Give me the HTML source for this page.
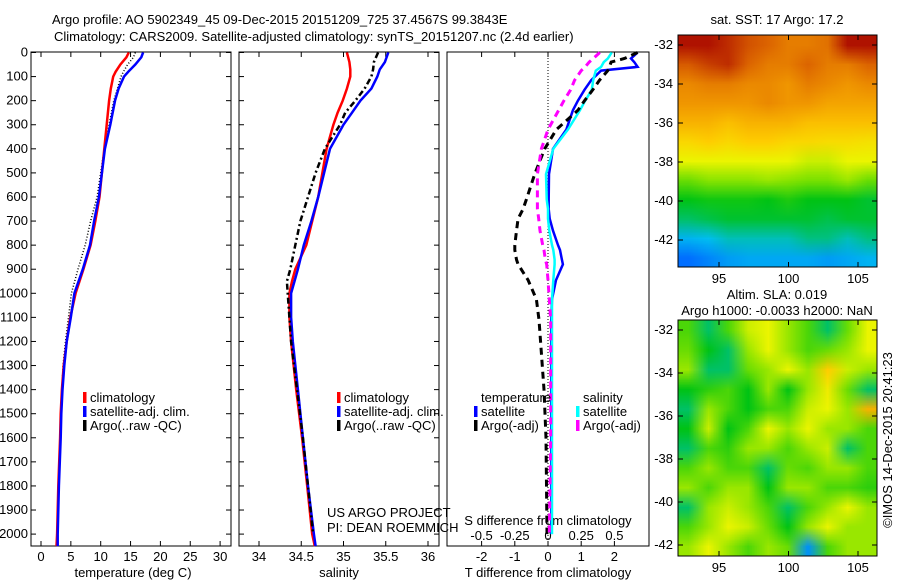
<!DOCTYPE html>
<html><head><meta charset="utf-8">
<style>
html,body{margin:0;padding:0;background:#fff;}
body{width:900px;height:580px;overflow:hidden;position:relative;font-family:"Liberation Sans",sans-serif;}
svg text{font-family:"Liberation Sans",sans-serif;font-size:13px;fill:#000;}
canvas{position:absolute;}
</style></head>
<body>
<canvas id="sst" width="10" height="12" style="left:678px;top:35px;width:199px;height:232px;"></canvas>
<canvas id="sla" width="10" height="12" style="left:678px;top:320px;width:199px;height:236px;"></canvas>
<svg id="chart" width="900" height="580" style="position:absolute;left:0;top:0">
<g id="g"></g>
</svg>
<script>
// ---- data ----
const tDepth  = [0,20,50,80,100,150,200,300,400,500,600,700,800,900,1000,1100,1200,1300,1400,1500,1600,1800,1900,2000,2050];
const tClim   = [14.7,14.3,13.3,12.5,12.1,11.7,11.4,11.0,10.6,10.2,9.8,9.1,8.3,7.1,5.8,4.9,4.3,3.8,3.5,3.3,3.2,2.9,2.8,2.7,2.6];
const tSat    = [17.1,16.8,15.8,14.6,13.9,13.0,12.4,11.6,10.7,10.2,9.7,8.9,8.2,7.0,5.6,5.0,4.3,3.9,3.6,3.4,3.3,3.0,2.9,2.8,2.8];
const tArgo   = [15.8,15.5,14.5,13.8,13.4,12.8,12.2,11.4,10.6,10.0,9.4,8.3,7.4,6.2,5.1,4.6,4.1,3.7,3.5,3.3,3.2,2.9,2.8,2.7,2.7];
const sDepth  = [0,40,70,100,150,200,250,300,400,500,600,700,800,900,950,1000,1100,1200,1400,1600,1800,2000,2050];
const sClim   = [35.04,35.07,35.08,35.08,35.04,34.99,34.93,34.88,34.80,34.75,34.70,34.63,34.56,34.43,34.39,34.36,34.36,34.38,34.44,34.51,34.57,34.63,34.66];
const sSat    = [35.53,35.49,35.43,35.40,35.33,35.20,35.10,35.00,34.84,34.77,34.70,34.62,34.53,34.46,34.42,34.38,34.38,34.40,34.46,34.52,34.58,34.65,34.67];
const sArgo   = [35.41,35.36,35.35,35.33,35.25,35.14,35.02,34.96,34.78,34.67,34.58,34.49,34.43,34.37,34.33,34.34,34.36,34.38,34.45,34.52,34.58,34.64,null];
const dDepth  = [0,25,40,60,75,115,155,200,240,320,400,505,610,650,690,740,800,820,860,880,945,1025,1110,1400,1600,2000];
const dTSat   = [2.7,2.5,2.6,2.7,1.6,1.3,1.1,0.9,0.75,0.55,0.15,0.03,0.02,0.02,0.05,0.15,0.3,0.36,0.42,0.45,0.24,0.12,0.1,0.1,0.1,0.1];
const dTArgo  = [2.7,2.3,1.9,1.85,1.8,1.55,1.35,1.1,0.9,0.25,-0.1,-0.4,-0.65,-0.75,-0.9,-0.95,-1.0,-1.0,-0.95,-0.9,-0.6,-0.35,-0.27,-0.12,-0.06,-0.03];
const dSSat   = [0.48,0.45,0.42,0.4,0.36,0.34,0.33,0.28,0.24,0.15,0.04,-0.015,-0.01,0.0,0.0,0.01,0.03,0.04,0.05,0.05,0.04,0.03,0.03,0.03,0.03,0.03];
const dSArgo  = [0.39,0.34,0.31,0.28,0.25,0.2,0.17,0.12,0.08,0.0,-0.05,-0.08,-0.08,-0.08,-0.07,-0.06,-0.04,-0.03,-0.02,-0.01,0.0,0.01,0.02,0.02,0.02,0.01];
const depthTicks = [0,100,200,300,400,500,600,700,800,900,1000,1100,1200,1300,1400,1500,1600,1700,1800,1900,2000];
const tTicks = [0,5,10,15,20,25,30];
const sTicks = [34,34.5,35,35.5,36];
const dTTicks = [-2,-1,0,1,2];
const dSTicks = [-0.5,-0.25,0,0.25,0.5];
const latTicks = [-32,-34,-36,-38,-40,-42];
const lonTicks = [95,100,105];
const sstGrid = [
[.93,.93,.9,.86,.84,.8,.8,.82,.93,.93],
[.85,.88,.9,.84,.8,.8,.84,.8,.8,.84],
[.78,.8,.8,.78,.78,.76,.8,.78,.76,.78],
[.76,.76,.76,.76,.78,.76,.76,.74,.74,.74],
[.72,.72,.7,.72,.72,.72,.7,.7,.7,.7],
[.66,.68,.66,.68,.68,.66,.66,.65,.65,.64],
[.6,.6,.6,.6,.6,.6,.58,.58,.6,.6],
[.52,.54,.54,.54,.55,.54,.53,.53,.55,.52],
[.45,.46,.46,.46,.45,.47,.45,.45,.45,.44],
[.42,.43,.44,.44,.44,.44,.44,.43,.44,.44],
[.36,.37,.39,.39,.39,.39,.41,.41,.39,.41],
[.3,.32,.34,.35,.35,.35,.35,.34,.35,.36]];
const slaGrid = [
[.5,.42,.5,.58,.6,.55,.5,.42,.52,.6],
[.52,.45,.42,.55,.6,.55,.5,.52,.55,.6],
[.55,.42,.42,.52,.55,.6,.55,.68,.58,.55],
[.45,.48,.5,.45,.55,.45,.55,.62,.52,.42],
[.42,.55,.5,.45,.5,.5,.58,.6,.55,.72],
[.45,.58,.45,.5,.6,.55,.6,.55,.55,.5],
[.42,.5,.48,.55,.55,.5,.55,.58,.42,.5],
[.5,.55,.5,.5,.42,.52,.5,.55,.55,.5],
[.55,.5,.55,.55,.45,.55,.55,.5,.5,.48],
[.42,.55,.58,.55,.5,.42,.5,.55,.6,.55],
[.5,.55,.6,.58,.52,.45,.55,.6,.55,.55],
[.55,.6,.55,.5,.55,.52,.33,.5,.55,.55]];

// ---- scales ----
const Y = d => 52.5 + d*0.2408;
const XT = t => 41 + t*5.97;
const XS = s => 259 + (s-34)*84.5;
const XD = v => 548 + v*33.2;
const XDS = v => 548 + v*132.8;
const panels = [[31,231],[239,439],[447,649]];
const TOP=52, BOT=546;
const NS='http://www.w3.org/2000/svg';
const g = document.getElementById('g');
function el(tag, attrs, parent){
  const e=document.createElementNS(NS,tag);
  for(const k in attrs) e.setAttribute(k,attrs[k]);
  (parent||g).appendChild(e); return e;
}
function txt(x,y,s,anchor,name){
  const t=el('text',{x:x,y:y,'text-anchor':anchor||'start'});
  t.textContent=s;
  
  
  return t;
}
function line(xs, ds, scale, color, w, dash, name){
  let p='';
  for(let i=0;i<xs.length;i++){ if(xs[i]==null) continue; p+=(p?'L':'M')+scale(xs[i]).toFixed(1)+','+Y(ds[i]).toFixed(1);}
  const e=el('path',{d:p,fill:'none',stroke:color,'stroke-width':w});
  if(dash) e.setAttribute('stroke-dasharray',dash);
  
  
}

txt(52,24,'Argo profile: AO 5902349_45 09-Dec-2015 20151209_725 37.4567S 99.3843E','start','title-line1');
txt(54,41,'Climatology: CARS2009. Satellite-adjusted climatology: synTS_20151207.nc (2.4d earlier)','start','title-line2');

panels.forEach((p,i)=>{
  const r=el('rect',{x:p[0],y:TOP,width:p[1]-p[0],height:BOT-TOP,fill:'none',stroke:'#000','stroke-width':1});
  
  
  depthTicks.forEach(d=>{
    if(i<2){ el('line',{x1:p[0],x2:p[0]+5,y1:Y(d),y2:Y(d),stroke:'#000'}); el('line',{x1:p[1]-5,x2:p[1],y1:Y(d),y2:Y(d),stroke:'#000'}); }
  });
});
depthTicks.forEach(d=>txt(28,Y(d)+4,String(d),'end','depth-tick-label'));
function xticks(ticks, scale, p, nm){
  ticks.forEach(t=>{
    const x=scale(t);
    el('line',{x1:x,x2:x,y1:TOP,y2:TOP+5,stroke:'#000'});
    el('line',{x1:x,x2:x,y1:BOT-5,y2:BOT,stroke:'#000'});
    txt(x,561,String(t),'middle',nm);
  });
}
xticks(tTicks,XT,panels[0],'temperature-tick-label');
xticks(sTicks,XS,panels[1],'salinity-tick-label');
xticks(dTTicks,XD,panels[2],'tdiff-tick-label');
dSTicks.forEach(t=>txt(XDS(t),540,String(t),'middle','sdiff-tick-label'));
txt(133,577,'temperature (deg C)','middle','x-axis-title-temperature');
txt(339,577,'salinity','middle','x-axis-title-salinity');
txt(548,577,'T difference from climatology','middle','x-axis-title-tdiff');
txt(548,525,'S difference from climatology','middle','x-axis-title-sdiff');
txt(327,517,'US ARGO PROJECT','start','project-label');
txt(327,532,'PI: DEAN ROEMMICH','start','pi-label');

const z=el('line',{x1:XD(0),x2:XD(0),y1:TOP,y2:BOT,stroke:'#000','stroke-dasharray':'1,2'});



line(tArgo,tDepth,XT,'#000',1.5,'1,2','temp-argo');
line(tClim,tDepth,XT,'#f00',2.5,null,'temp-climatology');
line(tSat,tDepth,XT,'#00f',2.5,null,'temp-satellite');
line(sClim,sDepth,XS,'#f00',2.5,null,'sal-climatology');
line(sSat,sDepth,XS,'#00f',2.5,null,'sal-satellite');
line(sArgo,sDepth,XS,'#000',2.5,'6,3,2,3','sal-argo');
line(dTSat,dDepth,XD,'#00f',2.5,null,'tdiff-satellite');
line(dSSat,dDepth,XDS,'#0ff',2.5,null,'sdiff-satellite');
line(dTArgo,dDepth,XD,'#000',3,'7,5','tdiff-argo');
line(dSArgo,dDepth,XDS,'#f0f',3,'7,5','sdiff-argo');

function legend(x,y,color,label,name){
  const r=el('rect',{x:x,y:y-10,width:3.5,height:11,fill:color});
  
  
  txt(x+7,y,label,'start',name);
}
legend(83,402,'#f00','climatology','legend-climatology');
legend(83,416,'#00f','satellite-adj. clim.','legend-satellite');
legend(83,430,'#000','Argo(..raw -QC)','legend-argo');
legend(337,402,'#f00','climatology','legend2-climatology');
legend(337,416,'#00f','satellite-adj. clim.','legend2-satellite');
legend(337,430,'#000','Argo(..raw -QC)','legend2-argo');
txt(481,402,'temperature','start','legend-temperature-heading');
txt(583,402,'salinity','start','legend-salinity-heading');
legend(474,416,'#00f','satellite','legend-tdiff-satellite');
legend(474,430,'#000','Argo(-adj)','legend-tdiff-argo');
legend(576,416,'#0ff','satellite','legend-sdiff-satellite');
legend(576,430,'#f0f','Argo(-adj)','legend-sdiff-argo');

// colormap
const cmapStops = [[0.2,[0,40,200]],[0.3,[0,110,255]],[0.37,[0,190,240]],[0.45,[0,195,20]],[0.53,[120,225,0]],[0.6,[235,245,0]],[0.68,[255,205,0]],[0.76,[240,150,0]],[0.84,[220,100,0]],[0.95,[165,0,0]]];
function cmap(v){
  if(v<=cmapStops[0][0]) return cmapStops[0][1];
  for(let i=1;i<cmapStops.length;i++){
    if(v<=cmapStops[i][0]){
      const a=cmapStops[i-1],b=cmapStops[i],f=(v-a[0])/(b[0]-a[0]);
      return a[1].map((c,k)=>c+(b[1][k]-c)*f);
    }
  }
  return cmapStops[cmapStops.length-1][1];
}
function drawMap(id,grid){
  const c=document.getElementById(id).getContext('2d');
  const img=c.createImageData(10,12);
  grid.forEach((row,j)=>row.forEach((v,i)=>{const k=(j*10+i)*4;const col=cmap(v);img.data[k]=col[0];img.data[k+1]=col[1];img.data[k+2]=col[2];img.data[k+3]=255;}));
  c.putImageData(img,0,0);
}
drawMap('sst',sstGrid); drawMap('sla',slaGrid);
function mapAxes(top,bottom,lat32,lat42,name){
  const r=el('rect',{x:678,y:top,width:199,height:bottom-top,fill:'none',stroke:'#000'});
  
  
  const LY=l=>lat32+(l+32)/(-10)*(lat42-lat32);
  latTicks.forEach(l=>{const y=LY(l);el('line',{x1:678,x2:683,y1:y,y2:y,stroke:'#000'});el('line',{x1:872,x2:877,y1:y,y2:y,stroke:'#000'});txt(673,y+4,String(l),'end',name+'-lat-label');});
  const LX=l=>719+(l-95)*13.9;
  lonTicks.forEach(l=>{const x=LX(l);el('line',{x1:x,x2:x,y1:top,y2:top+5,stroke:'#000'});el('line',{x1:x,x2:x,y1:bottom-5,y2:bottom,stroke:'#000'});txt(x,bottom+16,String(l),'middle',name+'-lon-label');});
}
mapAxes(35,267,45,240,'sst-map');
mapAxes(320,556,330,545,'sla-map');
txt(777,24,'sat. SST: 17 Argo: 17.2','middle','sst-title');
txt(777,299,'Altim. SLA: 0.019','middle','sla-title');
txt(777,315,'Argo h1000: -0.0033 h2000: NaN','middle','sla-subtitle');
const rt=txt(0,0,'\u00a9IMOS 14-Dec-2015 20:41:23','middle','timestamp');
rt.setAttribute('transform','translate(892,440) rotate(-90)');
</script>
</body></html>
